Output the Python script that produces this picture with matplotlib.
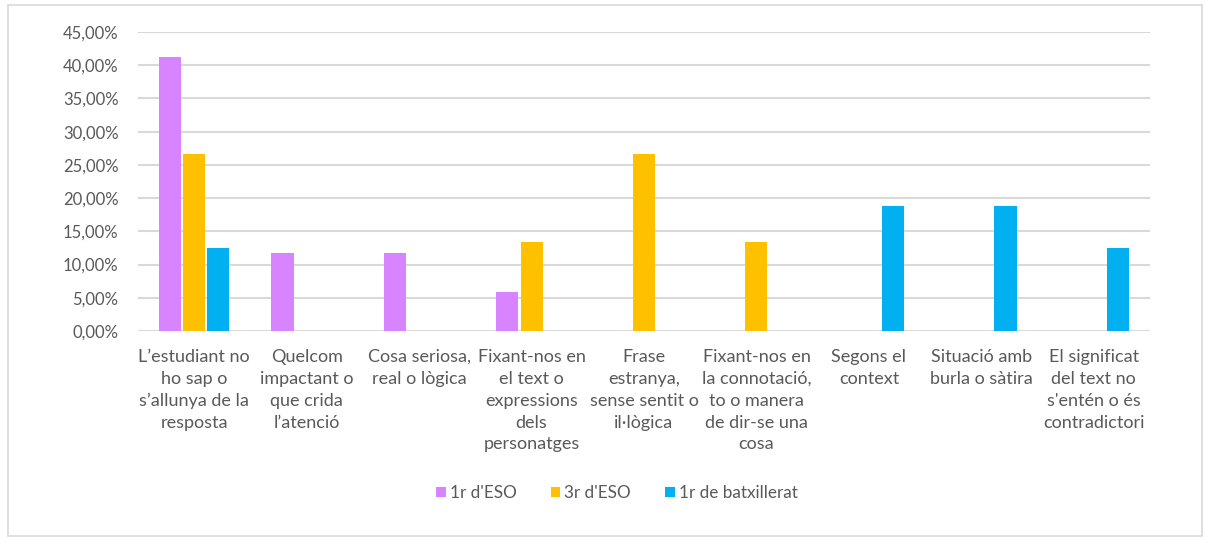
import matplotlib
matplotlib.use("Agg")
import matplotlib.pyplot as plt
import numpy as np
from matplotlib.ticker import FuncFormatter
from matplotlib.patches import Rectangle

categories = [
    "L’estudiant no\nho sap o\ns’allunya de la\nresposta",
    "Quelcom\nimpactant o\nque crida\nl’atenció",
    "Cosa seriosa,\nreal o lògica",
    "Fixant-nos en\nel text o\nexpressions\ndels\npersonatges",
    "Frase\nestranya,\nsense sentit o\nil·lògica",
    "Fixant-nos en\nla connotació,\nto o manera\nde dir-se una\ncosa",
    "Segons el\ncontext",
    "Situació amb\nburla o sàtira",
    "El significat\ndel text no\ns'entén o és\ncontradictori",
]
series_names = ["1r d'ESO", "3r d'ESO", "1r de batxillerat"]
eso1 = [41.18, 11.76, 11.76, 5.88, 0, 0, 0, 0, 0]
eso3 = [26.67, 0, 0, 13.33, 26.67, 13.33, 0, 0, 0]
batx1 = [12.5, 0, 0, 0, 0, 0, 18.75, 18.75, 12.5]
colors = ["#d883ff", "#ffc000", "#00b0f0"]

plt.rcParams['font.family'] = ['Lato', 'DejaVu Sans']
fig = plt.figure(figsize=(12.05, 5.4), dpi=100)
ax = fig.add_axes([138/1205, 1 - 331/540, (1150-138)/1205, (331-32)/540])

x = np.arange(len(categories))
w = 0.196
step = 0.215
for i, (vals, name, c) in enumerate(zip([eso1, eso3, batx1], series_names, colors)):
    ax.bar(x + (i - 1) * step, vals, width=w, color=c, label=name, zorder=3)

ax.set_xlim(-0.5, len(categories) - 0.5)
ax.set_ylim(0, 45)
ax.set_yticks(np.arange(0, 46, 5))
ax.yaxis.set_major_formatter(FuncFormatter(lambda v, p: f"{v:.2f}".replace(".", ",") + "%"))
ax.grid(axis='y', color='#d9d9d9', linewidth=1.5, zorder=0)
for s in ax.spines.values():
    s.set_visible(False)
ax.tick_params(axis='both', length=0, colors='#595959')
ax.tick_params(axis='y', pad=14, labelsize=12)
ax.set_xticks(x)
ax.set_xticklabels(categories, linespacing=1.45, va='top', fontsize=13)
ax.tick_params(axis='x', pad=13)

leg = fig.legend(loc='center', bbox_to_anchor=(617/1205, 1 - 493/540), ncol=3, frameon=False,
                 fontsize=12.3, handlelength=0.55, handleheight=0.55, handletextpad=0.25, columnspacing=2.0)
for t in leg.get_texts():
    t.set_color('#595959')

fig.patches.append(Rectangle((8/1205, 1 - 536/540), 1194/1205, 531/540, transform=fig.transFigure,
                             fill=False, edgecolor='#d9d9d9', linewidth=1.2))

fig.savefig("out.png", dpi=100)
